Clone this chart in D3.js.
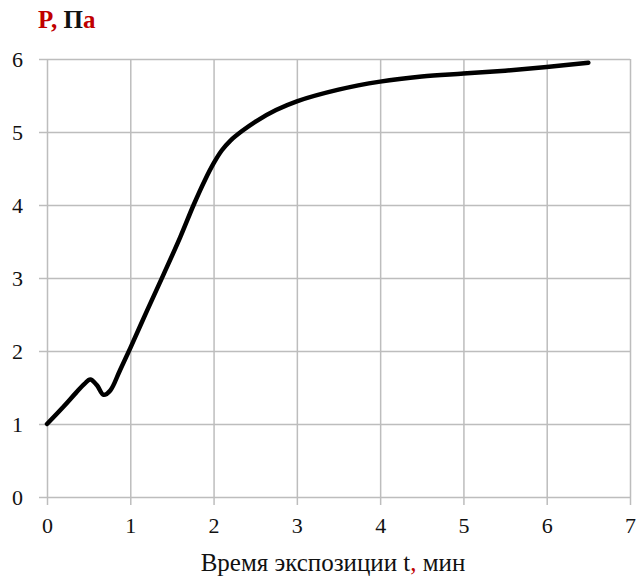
<!DOCTYPE html>
<html>
<head>
<meta charset="utf-8">
<script src="https://cdn.jsdelivr.net/npm/d3@7"></script>
<style>
  body { margin: 0; background: #fff; }
</style>
</head>
<body>
<svg id="chart" width="637" height="579"></svg>
<script>
// time, min
const timeValues = [0, 0.2, 0.35, 0.45, 0.52, 0.6, 0.68, 0.76, 0.87, 1.0, 1.2, 1.4, 1.6, 1.76, 1.9, 2.0, 2.1, 2.2, 2.35, 2.5, 2.75, 3.0, 3.5, 4.0, 4.5, 5.0, 5.5, 6.0, 6.5];
// pressure, Pa
const pressureValues = [1.0, 1.24, 1.43, 1.55, 1.61, 1.53, 1.4, 1.46, 1.72, 2.04, 2.55, 3.05, 3.56, 4.0, 4.35, 4.57, 4.75, 4.88, 5.02, 5.14, 5.3, 5.42, 5.58, 5.69, 5.76, 5.8, 5.84, 5.89, 5.95];
const xTicks = [0, 1, 2, 3, 4, 5, 6, 7];
const yTicks = [0, 1, 2, 3, 4, 5, 6];

const serif = "Liberation Serif";

const svg = d3.select("#chart");
const margin = { top: 59, right: 7, bottom: 82, left: 47 };
const width = +svg.attr("width") - margin.left - margin.right;
const height = +svg.attr("height") - margin.top - margin.bottom;

const g = svg.append("g")
  .attr("transform", `translate(${margin.left},${margin.top})`);

const x = d3.scaleLinear().domain([0, 7]).range([0, width]);
const y = d3.scaleLinear().domain([0, 6]).range([height, 0]);

const gridColor = "#bdbdbd";
const fmt = d3.format("d");

// vertical gridlines
g.append("g")
  .attr("transform", `translate(0,${height})`)
  .call(d3.axisBottom(x).tickValues(xTicks).tickSize(-height).tickFormat(""))
  .call(a => a.select(".domain").remove())
  .call(a => a.selectAll("line").attr("stroke", gridColor).attr("stroke-width", 1.5));

// horizontal gridlines
g.append("g")
  .call(d3.axisLeft(y).tickValues(yTicks).tickSize(-width).tickFormat(""))
  .call(a => a.select(".domain").remove())
  .call(a => a.selectAll("line").attr("stroke", gridColor).attr("stroke-width", 1.5));

// outer tick marks + labels
g.append("g")
  .attr("transform", `translate(0,${height})`)
  .call(d3.axisBottom(x).tickValues(xTicks).tickSize(8).tickPadding(12).tickFormat(fmt))
  .attr("font-family", serif)
  .attr("font-size", 22)
  .call(a => a.select(".domain").remove())
  .call(a => a.selectAll("line").attr("stroke", gridColor).attr("stroke-width", 1.5))
  .call(a => a.selectAll("text").attr("fill", "#111"));

g.append("g")
  .call(d3.axisLeft(y).tickValues(yTicks).tickSize(8).tickPadding(16).tickFormat(fmt))
  .attr("font-family", serif)
  .attr("font-size", 22)
  .call(a => a.select(".domain").remove())
  .call(a => a.selectAll("line").attr("stroke", gridColor).attr("stroke-width", 1.5))
  .call(a => a.selectAll("text").attr("fill", "#111"));

// the curve
const points = timeValues.map((t, i) => [t, pressureValues[i]]);
const line = d3.line()
  .x(d => x(d[0]))
  .y(d => y(d[1]))
  .curve(d3.curveCatmullRom.alpha(0.5));

g.append("path")
  .datum(points)
  .attr("fill", "none")
  .attr("stroke", "#000")
  .attr("stroke-width", 4.5)
  .attr("stroke-linejoin", "round")
  .attr("stroke-linecap", "round")
  .attr("d", line);

// y title
const yTitle = svg.append("text")
  .attr("x", 38)
  .attr("y", 28)
  .attr("font-family", serif)
  .attr("font-size", 25)
  .attr("font-weight", "bold");
yTitle.append("tspan").attr("fill", "#c00000").text("P, ");
yTitle.append("tspan").attr("fill", "#111").text("П");
yTitle.append("tspan").attr("fill", "#c00000").text("а");

// x title
const xTitle = svg.append("text")
  .attr("x", 333)
  .attr("y", 571)
  .attr("text-anchor", "middle")
  .attr("font-family", serif)
  .attr("font-size", 25)
  .attr("fill", "#111");
xTitle.append("tspan").text("Время экспозиции t");
xTitle.append("tspan").attr("fill", "#c00000").text(",");
xTitle.append("tspan").text(" мин");
</script>
</body>
</html>
